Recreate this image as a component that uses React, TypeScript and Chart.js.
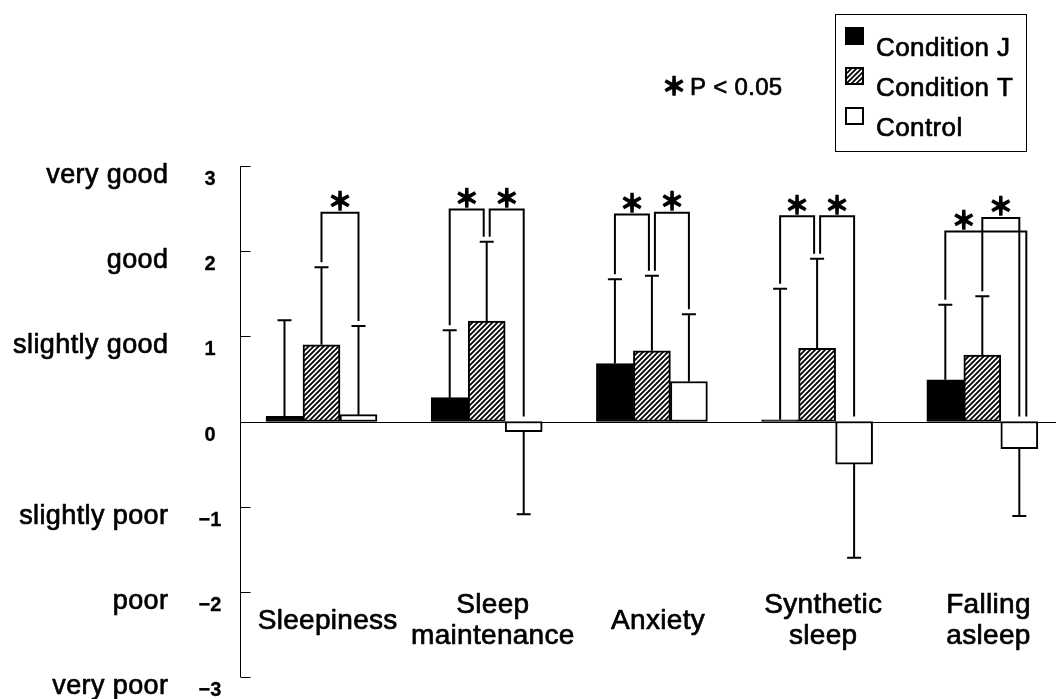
import React, { useEffect, useRef } from "react";
import { Chart, registerables } from "chart.js";

Chart.register(...registerables);

// Mean subjective ratings per item (positive = better) and their SD
const categories: string[][] = [
  ["Sleepiness"],
  ["Sleep", "maintenance"],
  ["Anxiety"],
  ["Synthetic", "sleep"],
  ["Falling", "asleep"],
];
const seriesNames = ["Condition J", "Condition T", "Control"];
const conditionJ = [0.06, 0.28, 0.68, 0.02, 0.49];
const conditionJSd = [1.13, 0.79, 0.99, 1.54, 0.88];
const conditionT = [0.9, 1.18, 0.83, 0.86, 0.78];
const conditionTSd = [0.91, 0.93, 0.88, 1.05, 0.69];
const control = [0.08, -0.12, 0.47, -0.5, -0.32];
const controlSd = [1.04, 0.97, 0.79, 1.1, 0.79];

// Rating scale
const yTickValues = [3, 2, 1, 0, -1, -2, -3];
const yTickNumbers = ["3", "2", "1", "0", "−1", "−2", "−3"];
const yTickWords = ["very good", "good", "slightly good", "", "slightly poor", "poor", "very poor"];

// Significant pairs (category, series a, series b, bracket height on the rating scale)
const sigCategory = [0, 1, 1, 2, 2, 3, 3, 4, 4];
const sigFrom = [1, 0, 1, 0, 1, 0, 1, 0, 1];
const sigTo = [2, 1, 2, 1, 2, 1, 2, 2, 2];
const sigLevel = [2.45, 2.49, 2.49, 2.43, 2.45, 2.41, 2.41, 2.23, 2.39];
const sigStar = "＊";
const sigNote = "P < 0.05";

const values = [conditionJ, conditionT, control];
const sds = [conditionJSd, conditionTSd, controlSd];

const TEXT_FONT = "'Liberation Sans', Arial, sans-serif";
const STAR_FONT = "'Noto Sans CJK JP', 'DejaVu Sans', sans-serif";

function makeHatch(): CanvasPattern | string {
  const s = 5;
  const c = document.createElement("canvas");
  c.width = s;
  c.height = s;
  const g = c.getContext("2d");
  if (!g) return "#777";
  g.fillStyle = "#fff";
  g.fillRect(0, 0, s, s);
  g.strokeStyle = "#000";
  g.lineWidth = 1.8;
  g.beginPath();
  for (const o of [-s, 0, s]) {
    g.moveTo(o - 1, s + 1);
    g.lineTo(o + s + 1, -1);
  }
  g.stroke();
  return g.createPattern(c, "repeat") || "#777";
}

// Slightly heavy text (fill plus a thin outline of the same colour)
function text(
  ctx: CanvasRenderingContext2D,
  str: string,
  x: number,
  y: number,
  font: string,
  align: CanvasTextAlign,
  spacing = 0,
  weight = 0.7
) {
  ctx.save();
  ctx.font = font;
  ctx.textAlign = align;
  ctx.textBaseline = "alphabetic";
  (ctx as any).letterSpacing = spacing + "px";
  ctx.fillStyle = "#000";
  ctx.strokeStyle = "#000";
  ctx.lineWidth = weight;
  ctx.lineJoin = "round";
  const dx = align === "center" ? spacing / 2 : align === "right" ? spacing : 0;
  ctx.fillText(str, x + dx, y);
  if (weight > 0) ctx.strokeText(str, x + dx, y);
  ctx.restore();
}

function star(ctx: CanvasRenderingContext2D, cx: number, cy: number, size: number) {
  ctx.save();
  ctx.font = `bold ${size}px ${STAR_FONT}`;
  ctx.textAlign = "center";
  ctx.textBaseline = "alphabetic";
  const m = ctx.measureText(sigStar);
  const off = (m.actualBoundingBoxAscent - m.actualBoundingBoxDescent) / 2;
  ctx.fillStyle = "#000";
  ctx.strokeStyle = "#000";
  ctx.lineWidth = 1.6;
  ctx.fillText(sigStar, cx, cy + off);
  ctx.strokeText(sigStar, cx, cy + off);
  ctx.restore();
}

export default function App() {
  const ref = useRef<HTMLCanvasElement | null>(null);

  useEffect(() => {
    const canvas = ref.current;
    if (!canvas) return;
    const hatch = makeHatch();
    const fills: (string | CanvasPattern)[] = ["#000", hatch, "#fff"];

    const annotations = {
      id: "ratingAnnotations",
      beforeDatasetsDraw(chart: any) {
        const { ctx, chartArea } = chart;
        const y = chart.scales.y;
        const ax = Math.round(chartArea.left) + 0.5;
        ctx.save();
        ctx.strokeStyle = "#000";
        ctx.lineWidth = 1;
        ctx.beginPath();
        ctx.moveTo(ax, y.getPixelForValue(3));
        ctx.lineTo(ax, y.getPixelForValue(-3));
        for (const v of yTickValues) {
          const py = Math.round(y.getPixelForValue(v)) + 0.5;
          ctx.moveTo(ax, py);
          ctx.lineTo(v === 0 ? chartArea.right : ax + 10, py);
        }
        ctx.stroke();
        ctx.restore();
      },
      afterDatasetsDraw(chart: any) {
        const { ctx } = chart;
        const x = chart.scales.x;
        const y = chart.scales.y;

        const center = (s: number, c: number) => chart.getDatasetMeta(s).data[c].x;
        const tip = (s: number, c: number) => {
          const v = values[s][c];
          return v >= 0 ? v + sds[s][c] : v - sds[s][c];
        };

        // one-sided SD bars
        ctx.save();
        ctx.strokeStyle = "#000";
        ctx.lineWidth = 2;
        for (let s = 0; s < values.length; s++) {
          const meta = chart.getDatasetMeta(s);
          meta.data.forEach((el: any, c: number) => {
            const py = y.getPixelForValue(tip(s, c));
            ctx.beginPath();
            ctx.moveTo(el.x, el.y);
            ctx.lineTo(el.x, py);
            ctx.moveTo(el.x - 7, py);
            ctx.lineTo(el.x + 7, py);
            ctx.stroke();
          });
        }

        // significance brackets
        const legEnd = (s: number, c: number) => {
          const v = values[s][c];
          return (v >= 0 ? y.getPixelForValue(tip(s, c)) : y.getPixelForValue(0)) - 5;
        };
        for (let k = 0; k < sigCategory.length; k++) {
          const c = sigCategory[k];
          const a = sigFrom[k];
          const b = sigTo[k];
          let offA = 0;
          let offB = 0;
          for (let j = 0; j < sigCategory.length; j++) {
            if (j === k || sigCategory[j] !== c) continue;
            if (sigTo[j] === a) offA = 3;
            if (sigFrom[j] === b) offB = -3;
            if (sigTo[j] === b && b - a > b - sigFrom[j]) offB = 7;
          }
          const xa = center(a, c) + offA;
          const xb = center(b, c) + offB;
          const py = y.getPixelForValue(sigLevel[k]);
          ctx.beginPath();
          ctx.moveTo(xa, legEnd(a, c));
          ctx.lineTo(xa, py);
          ctx.lineTo(xb, py);
          ctx.lineTo(xb, legEnd(b, c));
          ctx.stroke();
          const xNext = b === a + 1 ? xb : center(a + 1, c);
          star(ctx, (xa + xNext) / 2, py - 12, 24);
        }
        ctx.restore();

        // category names inside the plot
        const mid = y.getPixelForValue(-2.43);
        categories.forEach((lines, i) => {
          const cx = x.getPixelForValue(i) + 6;
          lines.forEach((ln, j) => {
            const by = mid + (j - (lines.length - 1) / 2) * 31 + 0.5;
            text(ctx, ln, cx, by, `28px ${TEXT_FONT}`, "center", 0.3);
          });
        });

        // rating scale labels
        yTickValues.forEach((v, i) => {
          const py = y.getPixelForValue(v);
          text(ctx, yTickNumbers[i], 210, py + 19, `bold 20px ${TEXT_FONT}`, "center", 0, 0.3);
          if (yTickWords[i]) text(ctx, yTickWords[i], 168, py + 17, `27px ${TEXT_FONT}`, "right", 0.4);
        });

        // legend
        ctx.save();
        ctx.strokeStyle = "#000";
        ctx.lineWidth = 1;
        ctx.strokeRect(835.5, 14.5, 191, 137);
        seriesNames.forEach((name, i) => {
          const base = 56 + 40 * i;
          const top = base - 29;
          ctx.fillStyle = fills[i] as any;
          ctx.fillRect(845, top, 19, 18);
          if (i > 0) {
            ctx.lineWidth = 2;
            ctx.strokeRect(846, top + 1, 17, 16);
          }
          text(ctx, name, 876, base, `26px ${TEXT_FONT}`, "left", 0.4);
        });
        ctx.restore();

        // significance note
        star(ctx, 674, 85, 24);
        text(ctx, sigNote, 690, 95, `24px ${TEXT_FONT}`, "left", 0.3);
      },
    };

    const chart = new Chart(canvas, {
      type: "bar",
      data: {
        datasets: seriesNames.map((name, s) => ({
          label: name,
          data: values[s].map((v, i) => ({ x: i, y: v })),
          backgroundColor: fills[s] as any,
          borderColor: "#000",
          borderWidth: 2,
          borderSkipped: false,
          barThickness: 37,
        })),
      },
      options: {
        animation: false,
        responsive: false,
        devicePixelRatio: 1,
        layout: { padding: { left: 240, top: 166, right: 0, bottom: 22 } },
        plugins: { legend: { display: false }, tooltip: { enabled: false } },
        scales: {
          x: { type: "linear", min: -0.4933, max: 4.446, offset: false, display: false },
          y: { type: "linear", min: -3, max: 3, display: false },
        },
      },
      plugins: [annotations],
    } as any);

    return () => chart.destroy();
  }, []);

  return (
    <div style={{ position: "absolute", left: 0, top: 0, width: 1056, height: 699, background: "#fff" }}>
      <canvas ref={ref} width={1056} height={699} style={{ display: "block" }} />
    </div>
  );
}
